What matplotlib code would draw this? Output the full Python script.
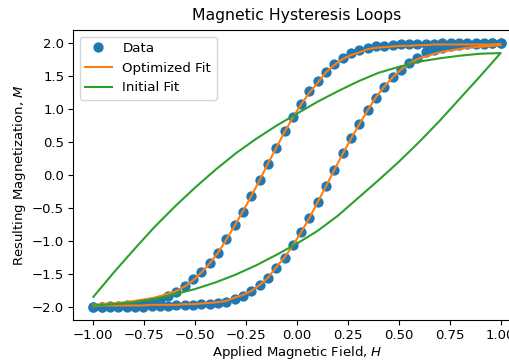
import numpy as np
import matplotlib
matplotlib.use("Agg")
import matplotlib.pyplot as plt

# Field sweep: 50 samples per branch
n_pts = 50
H_branch = np.linspace(-1.0, 1.0, n_pts)

# Measured magnetization, ascending branch (H increasing)
M_ascending = [-2.00, -2.00, -2.00, -2.00, -2.00, -2.00, -2.00, -1.99, -1.99, -1.99,
               -1.98, -1.98, -1.97, -1.96, -1.95, -1.94, -1.92, -1.88, -1.83, -1.76,
               -1.67, -1.56, -1.41, -1.26, -1.06, -0.86, -0.65, -0.41, -0.17, 0.08,
               0.33, 0.56, 0.77, 0.98, 1.17, 1.34, 1.48, 1.60, 1.70, 1.78,
               1.86, 1.90, 1.93, 1.95, 1.97, 1.98, 1.99, 1.99, 2.00, 2.00]

# Measured magnetization, descending branch (listed in increasing H order)
M_descending = [-2.00, -2.00, -1.99, -1.99, -1.98, -1.97, -1.95, -1.93, -1.89, -1.84,
                -1.77, -1.68, -1.58, -1.47, -1.33, -1.18, -0.97, -0.76, -0.56, -0.32,
                -0.08, 0.17, 0.41, 0.66, 0.88, 1.08, 1.27, 1.43, 1.57, 1.69,
                1.78, 1.85, 1.90, 1.93, 1.95, 1.96, 1.97, 1.98, 1.98, 1.99,
                1.99, 1.99, 2.00, 2.00, 2.00, 2.00, 2.00, 2.00, 2.00, 2.00]

# Optimized model, ascending branch
fit_ascending = [-1.99, -1.98, -1.98, -1.98, -1.98, -1.98, -1.98, -1.97, -1.97, -1.97,
                 -1.97, -1.96, -1.96, -1.95, -1.94, -1.93, -1.91, -1.86, -1.82, -1.76,
                 -1.67, -1.56, -1.40, -1.25, -1.07, -0.87, -0.65, -0.41, -0.17, 0.08,
                 0.32, 0.55, 0.77, 0.98, 1.18, 1.34, 1.48, 1.60, 1.69, 1.76,
                 1.80, 1.84, 1.87, 1.89, 1.91, 1.93, 1.94, 1.95, 1.96, 1.97]

# Optimized model, descending branch (increasing H order)
fit_descending = [-1.97, -1.96, -1.95, -1.94, -1.93, -1.91, -1.89, -1.87, -1.84, -1.80,
                  -1.76, -1.69, -1.60, -1.48, -1.34, -1.18, -0.98, -0.77, -0.55, -0.32,
                  -0.08, 0.17, 0.41, 0.65, 0.87, 1.07, 1.25, 1.40, 1.56, 1.67,
                  1.76, 1.82, 1.86, 1.91, 1.93, 1.94, 1.95, 1.96, 1.96, 1.97,
                  1.97, 1.98, 1.98, 1.98, 1.98, 1.98, 1.98, 1.98, 1.98, 1.99]

# Initial-guess model, sampled every 0.1 in H
H_init = np.linspace(-1.0, 1.0, 21)
init_ascending = [-1.98, -1.96, -1.93, -1.88, -1.81, -1.73, -1.63, -1.51, -1.37, -1.21,
                  -1.04, -0.85, -0.62, -0.35, -0.08, 0.20, 0.50, 0.82, 1.16, 1.50, 1.85]
init_descending = [-1.85, -1.48, -1.13, -0.79, -0.48, -0.19, 0.08, 0.33, 0.55, 0.75,
                   0.93, 1.11, 1.27, 1.42, 1.55, 1.64, 1.72, 1.77, 1.81, 1.84, 1.85]

# Full loop: up the ascending branch, back down the descending one
H_loop = np.concatenate([H_branch, H_branch[::-1]])
M_loop = np.concatenate([M_ascending, M_descending[::-1]])
fit_loop = np.concatenate([fit_ascending, fit_descending[::-1]])
H_init_loop = np.concatenate([H_init, H_init[::-1]])
init_loop = np.concatenate([init_ascending, init_descending[::-1]])

fig = plt.figure(figsize=(5.10, 3.61), dpi=100)
ax = fig.add_axes([0.1431, 0.1136, 0.8784, 0.8033])

ax.plot(H_loop, M_loop, "o", color="#1f77b4", markersize=6.4, label="Data")
ax.plot(H_loop, fit_loop, "-", color="#ff7f0e", lw=1.5, label="Optimized Fit")
ax.plot(H_init_loop, init_loop, "-", color="#2ca02c", lw=1.5, label="Initial Fit")

ax.set_xlim(-1.1, 1.1)
ax.set_ylim(-2.2, 2.2)
ax.set_xticks(np.arange(-1.0, 1.01, 0.25))
ax.set_yticks(np.arange(-2.0, 2.01, 0.5))
ax.tick_params(labelsize=9.5, pad=2.8)

ax.set_title("Magnetic Hysteresis Loops", fontsize=11.3, pad=7.5)
ax.set_xlabel("Applied Magnetic Field, $H$", fontsize=9.5, labelpad=1.5)
ax.set_ylabel("Resulting Magnetization, $M$", fontsize=9.5, labelpad=3)
ax.legend(loc="upper left", fontsize=9.6)

fig.savefig("out.png", dpi=100)
